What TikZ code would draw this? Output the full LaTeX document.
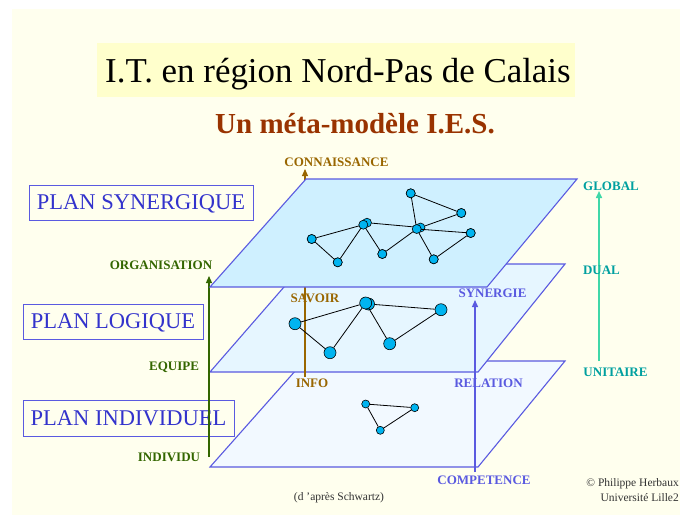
\documentclass[tikz,border=0pt]{standalone}
\usepackage{fontspec}
\setmainfont{Liberation Serif}
\usetikzlibrary{arrows.meta}
\definecolor{bgyellow}{HTML}{FFFFEE}
\definecolor{titlehl}{HTML}{FFFFCC}
\definecolor{subred}{HTML}{993300}
\definecolor{planeblue}{HTML}{5A5AE0}
\definecolor{textblue}{HTML}{3333CC}
\definecolor{topfill}{HTML}{CFF0FF}
\definecolor{midfill}{HTML}{E6F6FF}
\definecolor{lowfill}{HTML}{F2F9FF}
\definecolor{greenax}{HTML}{336600}
\definecolor{brownax}{HTML}{996600}
\definecolor{tealtext}{HTML}{00A0A0}
\definecolor{tealax}{HTML}{40D8A8}
\definecolor{nodecyan}{HTML}{00B4F0}
\definecolor{notegray}{HTML}{333333}
\begin{document}
\begin{tikzpicture}[x=1pt,y=-1pt,
  planestyle/.style={draw=planeblue,line width=1.1pt,line join=miter},
  lbl/.style={font=\fontsize{13}{13}\selectfont\bfseries,inner sep=0pt},
  planbox/.style={draw=planeblue,line width=1pt,text=textblue,font=\fontsize{22.5}{24}\selectfont,inner sep=0pt,text height=14.9pt,text depth=0pt},
  axis/.style={line width=1.3pt,-{Triangle[length=7pt,width=6pt]}},
  gn/.style={circle,draw=black,fill=nodecyan,line width=0.6pt,inner sep=0pt,minimum size=9pt},
  gnbig/.style={gn,minimum size=12pt},
  gnsmall/.style={gn,minimum size=8pt},
  gedge/.style={draw=black,line width=0.8pt}
]
\useasboundingbox (0,0) rectangle (680,515);
\clip (0,0) rectangle (680,515);
\fill[white] (0,0) rectangle (680,515);
\fill[bgyellow] (12,9) rectangle (680,515);
\fill[titlehl] (97,43) rectangle (575,97);

\node[anchor=base,inner sep=0pt,font=\fontsize{34.9}{40}\selectfont] (title) at (338,82) {I.T. en région Nord-Pas de Calais};
\node[anchor=base,inner sep=0pt,text=subred,font=\fontsize{29}{32}\selectfont\bfseries] (subtitle) at (355,133) {Un méta-modèle I.E.S.};

% left boxes
\node[planbox,minimum width=224pt,minimum height=35pt] (psyn) at (141,202.5) {PLAN SYNERGIQUE};
\node[planbox,minimum width=180pt,minimum height=35pt] (plog) at (113,321.5) {PLAN LOGIQUE};
\node[planbox,minimum width=211pt,minimum height=36pt] (pind) at (128.5,418) {PLAN INDIVIDUEL};

% bottom and middle planes
\draw[planestyle,fill=lowfill] (210,467) -- (478,467) -- (565,361) -- (304,361) -- cycle;
\draw[planestyle,fill=midfill] (210,372) -- (478,372) -- (565,264) -- (304,264) -- cycle;

% axes
\coordinate (gbot) at (209,457);
\coordinate (gtop) at (209,276);
\draw[axis,greenax] (gbot) -- (gtop);
\coordinate (bbot) at (305,377);
\coordinate (btop) at (305,169);
\draw[axis,brownax,line width=1.1pt] (bbot) -- (btop);
\coordinate (ubot) at (475,472);
\coordinate (utop) at (475,300);
\draw[axis,planeblue] (ubot) -- (utop);
\coordinate (tbot) at (599,361);
\coordinate (ttop) at (599,191);
\draw[axis,tealax,line width=1.5pt] (tbot) -- (ttop);

% top plane
\draw[planestyle,fill=topfill] (210,287) -- (487,287) -- (577,179) -- (306,179) -- cycle;

% labels
\node[lbl,text=brownax] (lconn) at (336.5,162) {CONNAISSANCE};
\node[lbl,text=brownax] (lsav) at (315,298) {SAVOIR};
\node[lbl,text=brownax] (linfo) at (312,383) {INFO};
\node[lbl,text=planeblue] (lsyn) at (492.5,293) {SYNERGIE};
\node[lbl,text=planeblue] (lrel) at (488.5,383) {RELATION};
\node[lbl,text=planeblue] (lcomp) at (484,480) {COMPETENCE};
\node[lbl,text=tealtext] (lglob) at (611,186) {GLOBAL};
\node[lbl,text=tealtext] (ldual) at (601.5,270) {DUAL};
\node[lbl,text=tealtext] (lunit) at (615.5,372.5) {UNITAIRE};
\node[lbl,text=greenax] (lorg) at (161,265) {ORGANISATION};
\node[lbl,text=greenax] (lequ) at (174,367) {EQUIPE};
\node[lbl,text=greenax] (lind) at (169,457.5) {INDIVIDU};

% top graph
\coordinate (dc) at (363.3,224.7);
\coordinate (gc) at (416.7,229);
\node[gn] (d2) at (367,222.7) {};
\node[gn] (g2) at (420.5,227.5) {};
\node[gn] (a) at (410.7,193.3) {};
\node[gn] (b) at (461.3,213) {};
\node[gn] (c) at (311.7,239) {};
\node[gn] (e) at (337.7,262.3) {};
\node[gn] (f) at (382.3,254) {};
\node[gn] (h) at (470.7,233) {};
\node[gn] (i) at (433.7,259.3) {};
\draw[gedge] (c) -- (dc) -- (e) -- (c);
\draw[gedge] (dc) -- (f) -- (gc);
\draw[gedge] (d2) -- (g2);
\draw[gedge] (a) -- (b) -- (g2);
\draw[gedge] (a) -- (gc) -- (h) -- (i) -- (gc);
\node[gn] (d) at (dc) {};
\node[gn] (g) at (gc) {};
\node[gn] (c1) at (c) {};
\node[gn] (e1) at (e) {};
\node[gn] (f1) at (f) {};
\node[gn] (a1) at (a) {};
\node[gn] (b1) at (b) {};
\node[gn] (h1) at (h) {};
\node[gn] (i1) at (i) {};

% middle graph
\node[gnbig] (q2) at (368.5,304) {};
\node[gnbig] (p) at (295,323.7) {};
\node[gnbig] (q) at (365.7,303) {};
\node[gnbig] (r) at (330,352.7) {};
\node[gnbig] (s) at (389.7,343.7) {};
\node[gnbig] (t) at (441,309.7) {};
\draw[gedge] (p) -- (q) -- (r) -- (p);
\draw[gedge] (q) -- (s) -- (t) -- (q2);

% bottom graph
\node[gnsmall] (u) at (365.7,404) {};
\node[gnsmall] (v) at (414.7,407.7) {};
\node[gnsmall] (w) at (380.3,430.3) {};
\draw[gedge] (u) -- (v) -- (w) -- (u);

% notes
\node[anchor=base,inner sep=0pt,text=notegray,font=\fontsize{11.5}{12}\selectfont] (note) at (339,500) {(d 'après Schwartz)};
\node[anchor=base east,inner sep=0pt,text=notegray,font=\fontsize{11.5}{12}\selectfont] (copy1) at (679,486) {© Philippe Herbaux};
\node[anchor=base east,inner sep=0pt,text=notegray,font=\fontsize{11.5}{12}\selectfont] (copy2) at (679,501) {Université Lille2};
\end{tikzpicture}
\end{document}
